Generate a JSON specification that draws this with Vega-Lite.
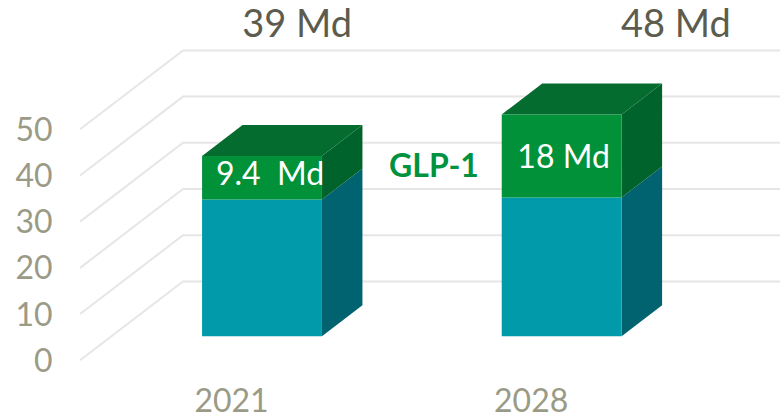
{
"$schema":"https://vega.github.io/schema/vega-lite/v6.json",
"width":724,"height":385,
"autosize":{"type":"none"},
"padding":{"left":56,"top":0,"right":0,"bottom":33},
"background":"white",
"config":{"view":{"stroke":null},"font":"Lato"},
"datasets":{
"grid":[
{"tick":0,"x":2016.75,"y":-5.2},{"tick":0,"x":2019.155,"y":11.86},{"tick":0,"x":2033.1,"y":11.86},
{"tick":10,"x":2016.75,"y":4.8},{"tick":10,"x":2019.155,"y":21.86},{"tick":10,"x":2033.1,"y":21.86},
{"tick":20,"x":2016.75,"y":14.8},{"tick":20,"x":2019.155,"y":31.86},{"tick":20,"x":2033.1,"y":31.86},
{"tick":30,"x":2016.75,"y":24.8},{"tick":30,"x":2019.155,"y":41.86},{"tick":30,"x":2033.1,"y":41.86},
{"tick":40,"x":2016.75,"y":34.8},{"tick":40,"x":2019.155,"y":51.86},{"tick":40,"x":2033.1,"y":51.86},
{"tick":50,"x":2016.75,"y":44.8},{"tick":50,"x":2019.155,"y":61.86},{"tick":50,"x":2033.1,"y":61.86}
],
"front":[
{"year":2021,"segment":"Autres","x0":2019.6,"x1":2022.4,"low":0,"high":29.6},
{"year":2021,"segment":"GLP-1","x0":2019.6,"x1":2022.4,"low":29.6,"high":39},
{"year":2028,"segment":"Autres","x0":2026.6,"x1":2029.4,"low":0,"high":30},
{"year":2028,"segment":"GLP-1","x0":2026.6,"x1":2029.4,"low":30,"high":48}
],
"side":[
{"year":2021,"segment":"Autres","x":2022.4,"low":0,"high":29.6},
{"year":2021,"segment":"Autres","x":2023.346,"low":6.71,"high":36.31},
{"year":2021,"segment":"GLP-1","x":2022.4,"low":29.6,"high":39},
{"year":2021,"segment":"GLP-1","x":2023.346,"low":36.31,"high":45.71},
{"year":2028,"segment":"Autres","x":2029.4,"low":0,"high":30},
{"year":2028,"segment":"Autres","x":2030.346,"low":6.71,"high":36.71},
{"year":2028,"segment":"GLP-1","x":2029.4,"low":30,"high":48},
{"year":2028,"segment":"GLP-1","x":2030.346,"low":36.71,"high":54.71}
],
"top":[
{"year":2021,"y":39,"x0":2019.6,"x1":2022.4},
{"year":2021,"y":45.71,"x0":2020.546,"x1":2023.346},
{"year":2028,"y":48,"x0":2026.6,"x1":2029.4},
{"year":2028,"y":54.71,"x0":2027.546,"x1":2030.346}
],
"totals":[
{"label":"39 Md","x":2021.82,"y":67.2},
{"label":"48 Md","x":2030.67,"y":67.2}
],
"inner":[
{"label":"9.4\u00a0\u00a0Md","x":2021.187,"y":35.0},
{"label":"18 Md","x":2028.045,"y":38.6}
],
"name":[
{"label":"GLP-1","x":2025.018,"y":36.7}
]
},
"encoding":{
"x":{"type":"quantitative","scale":{"domain":[2016.188,2033.1],"nice":false,"zero":false}},
"y":{"type":"quantitative","scale":{"domain":[-10.56,72.77],"nice":false,"zero":false}}
},
"layer":[
{"data":{"name":"grid"},"mark":{"type":"line","color":"#e6e6e6","strokeWidth":2},
"encoding":{"x":{"field":"x","type":"quantitative","title":null,
"axis":{"values":[2021,2028],"format":"d","domain":false,"ticks":false,"grid":false,"labelFontSize":32,"labelColor":"#9a9b87","labelFont":"Lato","labelPadding":1,"labelOffset":-31,"labelFlush":false,"labelOverlap":false,"title":null}},
"y":{"field":"y","type":"quantitative","title":null,
"axis":{"values":[0,10,20,30,40,50],"domain":false,"ticks":false,"grid":false,"labelFontSize":32,"labelColor":"#9a9b87","labelFont":"Lato","labelPadding":4,"labelOffset":25,"labelFlush":false,"labelOverlap":false,"title":null}},
"detail":{"field":"tick"}}},
{"data":{"name":"side"},"mark":{"type":"area","opacity":1,"line":false},
"encoding":{"x":{"field":"x","type":"quantitative"},"y":{"field":"low","type":"quantitative"},"y2":{"field":"high"},
"detail":{"field":"year"},
"color":{"field":"segment","type":"nominal","legend":null,"scale":{"domain":["Autres","GLP-1"],"range":["#00636f","#00632b"]}}}},
{"data":{"name":"top"},"mark":{"type":"area","orient":"horizontal","color":"#036c2e","opacity":1},
"encoding":{"y":{"field":"y","type":"quantitative"},"x":{"field":"x0","type":"quantitative"},"x2":{"field":"x1"},"detail":{"field":"year"}}},
{"data":{"name":"front"},"mark":{"type":"rect"},
"encoding":{"x":{"field":"x0","type":"quantitative"},"x2":{"field":"x1"},"y":{"field":"low","type":"quantitative"},"y2":{"field":"high"},
"color":{"field":"segment","type":"nominal","legend":null,"scale":{"domain":["Autres","GLP-1"],"range":["#009aab","#009139"]}}}},
{"data":{"name":"totals"},"mark":{"type":"text","font":"Lato","fontSize":38,"color":"#5c5c4e","align":"center","baseline":"middle"},
"encoding":{"x":{"field":"x","type":"quantitative"},"y":{"field":"y","type":"quantitative"},"text":{"field":"label"}}},
{"data":{"name":"inner"},"mark":{"type":"text","font":"Lato","fontSize":32,"color":"white","align":"center","baseline":"middle"},
"encoding":{"x":{"field":"x","type":"quantitative"},"y":{"field":"y","type":"quantitative"},"text":{"field":"label"}}},
{"data":{"name":"name"},"mark":{"type":"text","font":"Lato","fontSize":32,"fontWeight":"bold","color":"#00923f","align":"center","baseline":"middle"},
"encoding":{"x":{"field":"x","type":"quantitative"},"y":{"field":"y","type":"quantitative"},"text":{"field":"label"}}}
],
"resolve":{"scale":{"color":"independent"}}
}
